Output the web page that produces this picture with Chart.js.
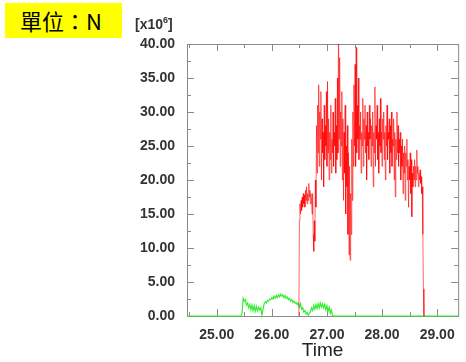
<!DOCTYPE html>
<html>
<head>
<meta charset="utf-8">
<script src="https://cdn.jsdelivr.net/npm/chart.js@4"></script>
<style>
  html, body { margin: 0; padding: 0; background: #fff; }
  #wrap { position: relative; width: 466px; height: 362px; }
  #unit {
    position: absolute; left: 5px; top: 3px; width: 117px; height: 35px;
    background: #ffff00; font: 22px "Noto Sans CJK TC", "Liberation Serif", serif;
    line-height: 35px; padding-left: 15px; box-sizing: border-box; color: #000;
  }
  #scale {
    position: absolute; left: 135px; top: 15px;
    font: bold 14px "Liberation Sans", Arial, sans-serif; color: #333;
  }
  #scale sup { font-size: 9px; }
  canvas { position: absolute; left: 0; top: 0; }
</style>
</head>
<body>
<div id="wrap">
  <canvas id="chart" width="466" height="362"></canvas>
  <div id="unit">單位：N</div>
  <div id="scale">[x10<sup>6</sup>]</div>
</div>
<script>
// axis ticks
const xTicks = [25, 26, 27, 28, 29];
const yTicks = [0, 5, 10, 15, 20, 25, 30, 35, 40];

// red series: sampled every 0.01 from 26.49
const redStart = 26.49;
const redStep = 0.01;
const redValues = [
  0,
  14, 16.5, 15, 17, 15.5, 17.5, 16, 18, 16.5, 17.8,
  16, 18.5, 17, 19, 16.5, 18, 17, 19.5, 17.5, 18.5,
  16.5, 18, 17, 15, 18, 12, 9.5, 14, 11, 20,
  16, 28, 21, 31, 24, 34, 22, 30, 26, 33,
  20, 29, 24, 27, 19, 31, 23, 28, 25, 33,
  22, 34.5, 24, 29, 20, 27, 23, 31, 21, 26,
  24, 30, 22, 27, 25, 32, 21, 28, 23, 35,
  24, 44, 26, 38, 22, 30, 25, 33, 20, 29,
  17, 27, 21, 31, 15, 25, 19, 28, 12, 24,
  9, 22, 8.2, 18, 12, 26, 17, 30, 22, 34,
  25, 37, 22, 39.5, 24, 31, 26, 35, 23, 28,
  26, 30, 21, 27, 25, 32, 22, 29, 26, 31,
  24, 28, 20, 30, 25, 27, 23, 31, 26, 29,
  22, 28, 25, 30, 19, 27, 24, 33.7, 22, 28,
  26, 31, 23, 27, 21, 29, 25, 32, 24, 27,
  22, 29, 26, 30, 23, 27, 20, 28, 25, 31,
  23, 27, 26, 29, 21, 28, 24, 30, 22, 26,
  25, 29, 20, 27, 17.5, 26, 23, 30, 24, 28,
  22, 26, 24, 27, 20, 25, 22, 26, 18, 24,
  21, 25, 17, 24, 22, 26, 20, 23, 16, 22,
  20, 24, 18, 23, 14.6, 21, 19, 22, 20, 23,
  19, 22, 20, 24.4, 21, 22, 19, 21, 20, 21.5,
  19.5, 20.5, 18, 19, 12, 4, 0, 0
];

// green series: sampled every 0.02 from 25.44
const greenStart = 25.44;
const greenStep = 0.02;
const greenValues = [
  0, 0.5, 2.6, 2.2, 2.4, 1.6, 1.9, 1.2, 1.7, 0.9,
  1.6, 0.8, 1.5, 0.7, 1.4, 0.8, 1.3, 0.9, 1.2, 0.1,
  1.0, 1.8, 2.1, 1.9, 2.3, 2.2, 2.5, 2.4, 2.7, 2.5,
  2.9, 2.6, 3.0, 2.7, 3.1, 2.8, 3.2, 2.9, 3.1, 2.7,
  3.0, 2.6, 2.8, 2.4, 2.6, 2.2, 2.4, 2.0, 2.2, 1.9,
  2.0, 1.7, 1.9, 1.3, 1.8, 1.0, 1.2, 0.6, 0.8, 0.3,
  0.5, 0.1, 0.4, 0.6, 1.2, 0.8, 1.5, 1.0, 1.7, 1.1,
  1.8, 1.2, 1.9, 1.3, 1.8, 1.2, 1.7, 0.9, 1.5, 0.7,
  1.3, 0.4, 0.9, 0.1, 0
];
const xMin = 24.46;
const xMax = 29.38;

const redData = redValues.map((v, i) => ({ x: redStart + i * redStep, y: v }));
const greenData = [{ x: xMin, y: 0 }].concat(
  greenValues.map((v, i) => ({ x: greenStart + i * greenStep, y: v })),
  [{ x: xMax, y: 0 }]);

// frame with inward ticks on all four sides, drawn under the lines
const framePlugin = {
  id: "frame",
  beforeDatasetsDraw(chart) {
    const { ctx, chartArea: a, scales: { x, y } } = chart;
    ctx.save();
    ctx.strokeStyle = "#8a8a8a";
    ctx.lineWidth = 1;
    ctx.strokeRect(a.left + 0.5, a.top + 0.5, a.right - a.left, a.bottom - a.top);
    ctx.beginPath();
    for (let v = 24.5; v <= xMax; v += 0.5) {
      const px = Math.round(x.getPixelForValue(v)) + 0.5;
      const len = Number.isInteger(v) ? 7 : 4;
      ctx.moveTo(px, a.bottom); ctx.lineTo(px, a.bottom - len);
      ctx.moveTo(px, a.top); ctx.lineTo(px, a.top + len);
    }
    for (let v = 0; v <= 40; v += 2.5) {
      const py = Math.round(y.getPixelForValue(v)) + 0.5;
      const len = v % 5 === 0 ? 7 : 4;
      ctx.moveTo(a.left, py); ctx.lineTo(a.left + len, py);
      ctx.moveTo(a.right, py); ctx.lineTo(a.right - len, py);
    }
    ctx.stroke();
    ctx.restore();
  }
};

const tickFont = { family: "'Liberation Sans', Arial, sans-serif", size: 14, weight: "bold" };

new Chart(document.getElementById("chart"), {
  type: "line",
  data: {
    datasets: [
      {
        data: redData,
        borderColor: "rgba(255,0,0,0.6)",
        borderWidth: 1,
        pointRadius: 0,
        tension: 0,
        clip: { left: 0, top: 0, right: 0, bottom: 4 }
      },
      {
        data: greenData,
        borderColor: "#33ee33",
        borderWidth: 1.2,
        pointRadius: 0,
        tension: 0,
        clip: { left: 0, top: 0, right: 0, bottom: 4 }
      }
    ]
  },
  options: {
    responsive: false,
    animation: false,
    layout: { padding: { top: 44, right: 4, left: 0, bottom: 0 } },
    plugins: { legend: { display: false }, tooltip: { enabled: false } },
    scales: {
      x: {
        type: "linear",
        min: xMin,
        max: xMax,
        afterBuildTicks: s => { s.ticks = xTicks.map(v => ({ value: v })); },
        afterFit: s => { s.height = 46; },
        grid: { display: false, drawTicks: false },
        border: { display: false },
        ticks: { padding: 11, color: "#333", font: tickFont, maxRotation: 0,
                 callback: v => v.toFixed(2) },
        title: { display: true, text: "Time", color: "#222", padding: { top: 5, bottom: 0 },
                 font: { family: "'Liberation Sans', Arial, sans-serif", size: 19 } }
      },
      y: {
        min: 0,
        max: 40,
        afterBuildTicks: s => { s.ticks = yTicks.map(v => ({ value: v })); },
        afterFit: s => { s.width = 187; },
        grid: { display: false, drawTicks: false },
        border: { display: false },
        ticks: { padding: 12, color: "#333", font: tickFont, callback: v => v.toFixed(2) }
      }
    }
  },
  plugins: [framePlugin]
});
</script>
</body>
</html>
